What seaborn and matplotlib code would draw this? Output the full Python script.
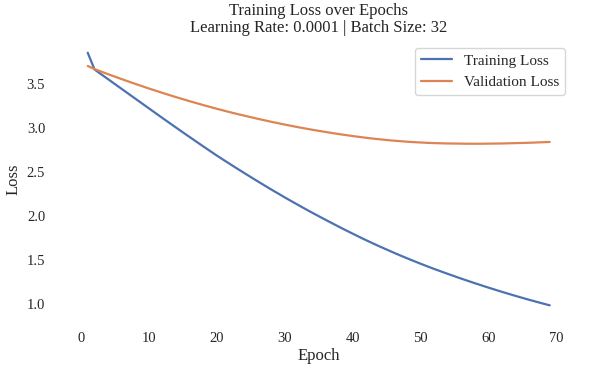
import numpy as np
import pandas as pd
import matplotlib
matplotlib.use("Agg")
import matplotlib.pyplot as plt
import seaborn as sns

# values
epochs = list(range(1, 70))
train_loss = [
    3.850, 3.660, 3.605, 3.550, 3.495, 3.440, 3.385, 3.330, 3.275, 3.220,
    3.165, 3.110, 3.056, 3.002, 2.948, 2.895, 2.842, 2.789, 2.737, 2.685,
    2.635, 2.586, 2.537, 2.489, 2.441, 2.394, 2.347, 2.301, 2.256, 2.211,
    2.167, 2.124, 2.081, 2.039, 1.998, 1.957, 1.917, 1.877, 1.838, 1.800,
    1.762, 1.725, 1.689, 1.654, 1.620, 1.586, 1.553, 1.521, 1.490, 1.459,
    1.429, 1.400, 1.372, 1.344, 1.317, 1.290, 1.264, 1.238, 1.213, 1.188,
    1.164, 1.140, 1.117, 1.094, 1.072, 1.050, 1.029, 1.008, 0.988,
]
val_loss = [
    3.700, 3.665, 3.636, 3.607, 3.579, 3.551, 3.524, 3.497, 3.471, 3.445,
    3.420, 3.395, 3.371, 3.347, 3.324, 3.301, 3.279, 3.257, 3.236, 3.215,
    3.195, 3.175, 3.156, 3.138, 3.120, 3.102, 3.085, 3.068, 3.052, 3.036,
    3.021, 3.006, 2.992, 2.978, 2.965, 2.952, 2.940, 2.928, 2.917, 2.906,
    2.896, 2.886, 2.877, 2.869, 2.861, 2.854, 2.848, 2.842, 2.837, 2.833,
    2.829, 2.826, 2.824, 2.822, 2.821, 2.820, 2.819, 2.819, 2.819, 2.820,
    2.821, 2.822, 2.824, 2.826, 2.828, 2.830, 2.833, 2.836, 2.839,
]
series_names = ["Training Loss", "Validation Loss"]

df = pd.DataFrame({"Epoch": epochs, series_names[0]: train_loss, series_names[1]: val_loss})
df_long = df.melt(id_vars="Epoch", var_name="Series", value_name="Loss")

sns.set_theme(style="white", palette="deep")
plt.rcParams["font.family"] = ["Liberation Serif", "DejaVu Serif"]

fig, ax = plt.subplots(figsize=(5.93, 3.68), dpi=100)
fig.subplots_adjust(left=0.109, right=0.966, top=0.891, bottom=0.136)

sns.lineplot(data=df_long, x="Epoch", y="Loss", hue="Series", ax=ax, linewidth=1.6)

ax.set_title("Training Loss over Epochs\nLearning Rate: 0.0001 | Batch Size: 32",
             fontsize=12, linespacing=1.1, pad=6)
ax.set_xlabel("Epoch", fontsize=12, labelpad=2)
ax.set_ylabel("Loss", fontsize=12, labelpad=4)
ax.tick_params(axis="x", labelsize=10.5, length=0, pad=10)
ax.tick_params(axis="y", labelsize=10.5, length=0, pad=14)
ax.set_xticks([0, 10, 20, 30, 40, 50, 60, 70])
ax.set_yticks([1.0, 1.5, 2.0, 2.5, 3.0, 3.5])

for s in ax.spines.values():
    s.set_visible(False)

leg = ax.legend(loc="upper right", fontsize=11, frameon=True, borderpad=0.4,
                handlelength=2.0)
leg.get_frame().set_edgecolor("#cccccc")

fig.savefig("out.png", dpi=100)
